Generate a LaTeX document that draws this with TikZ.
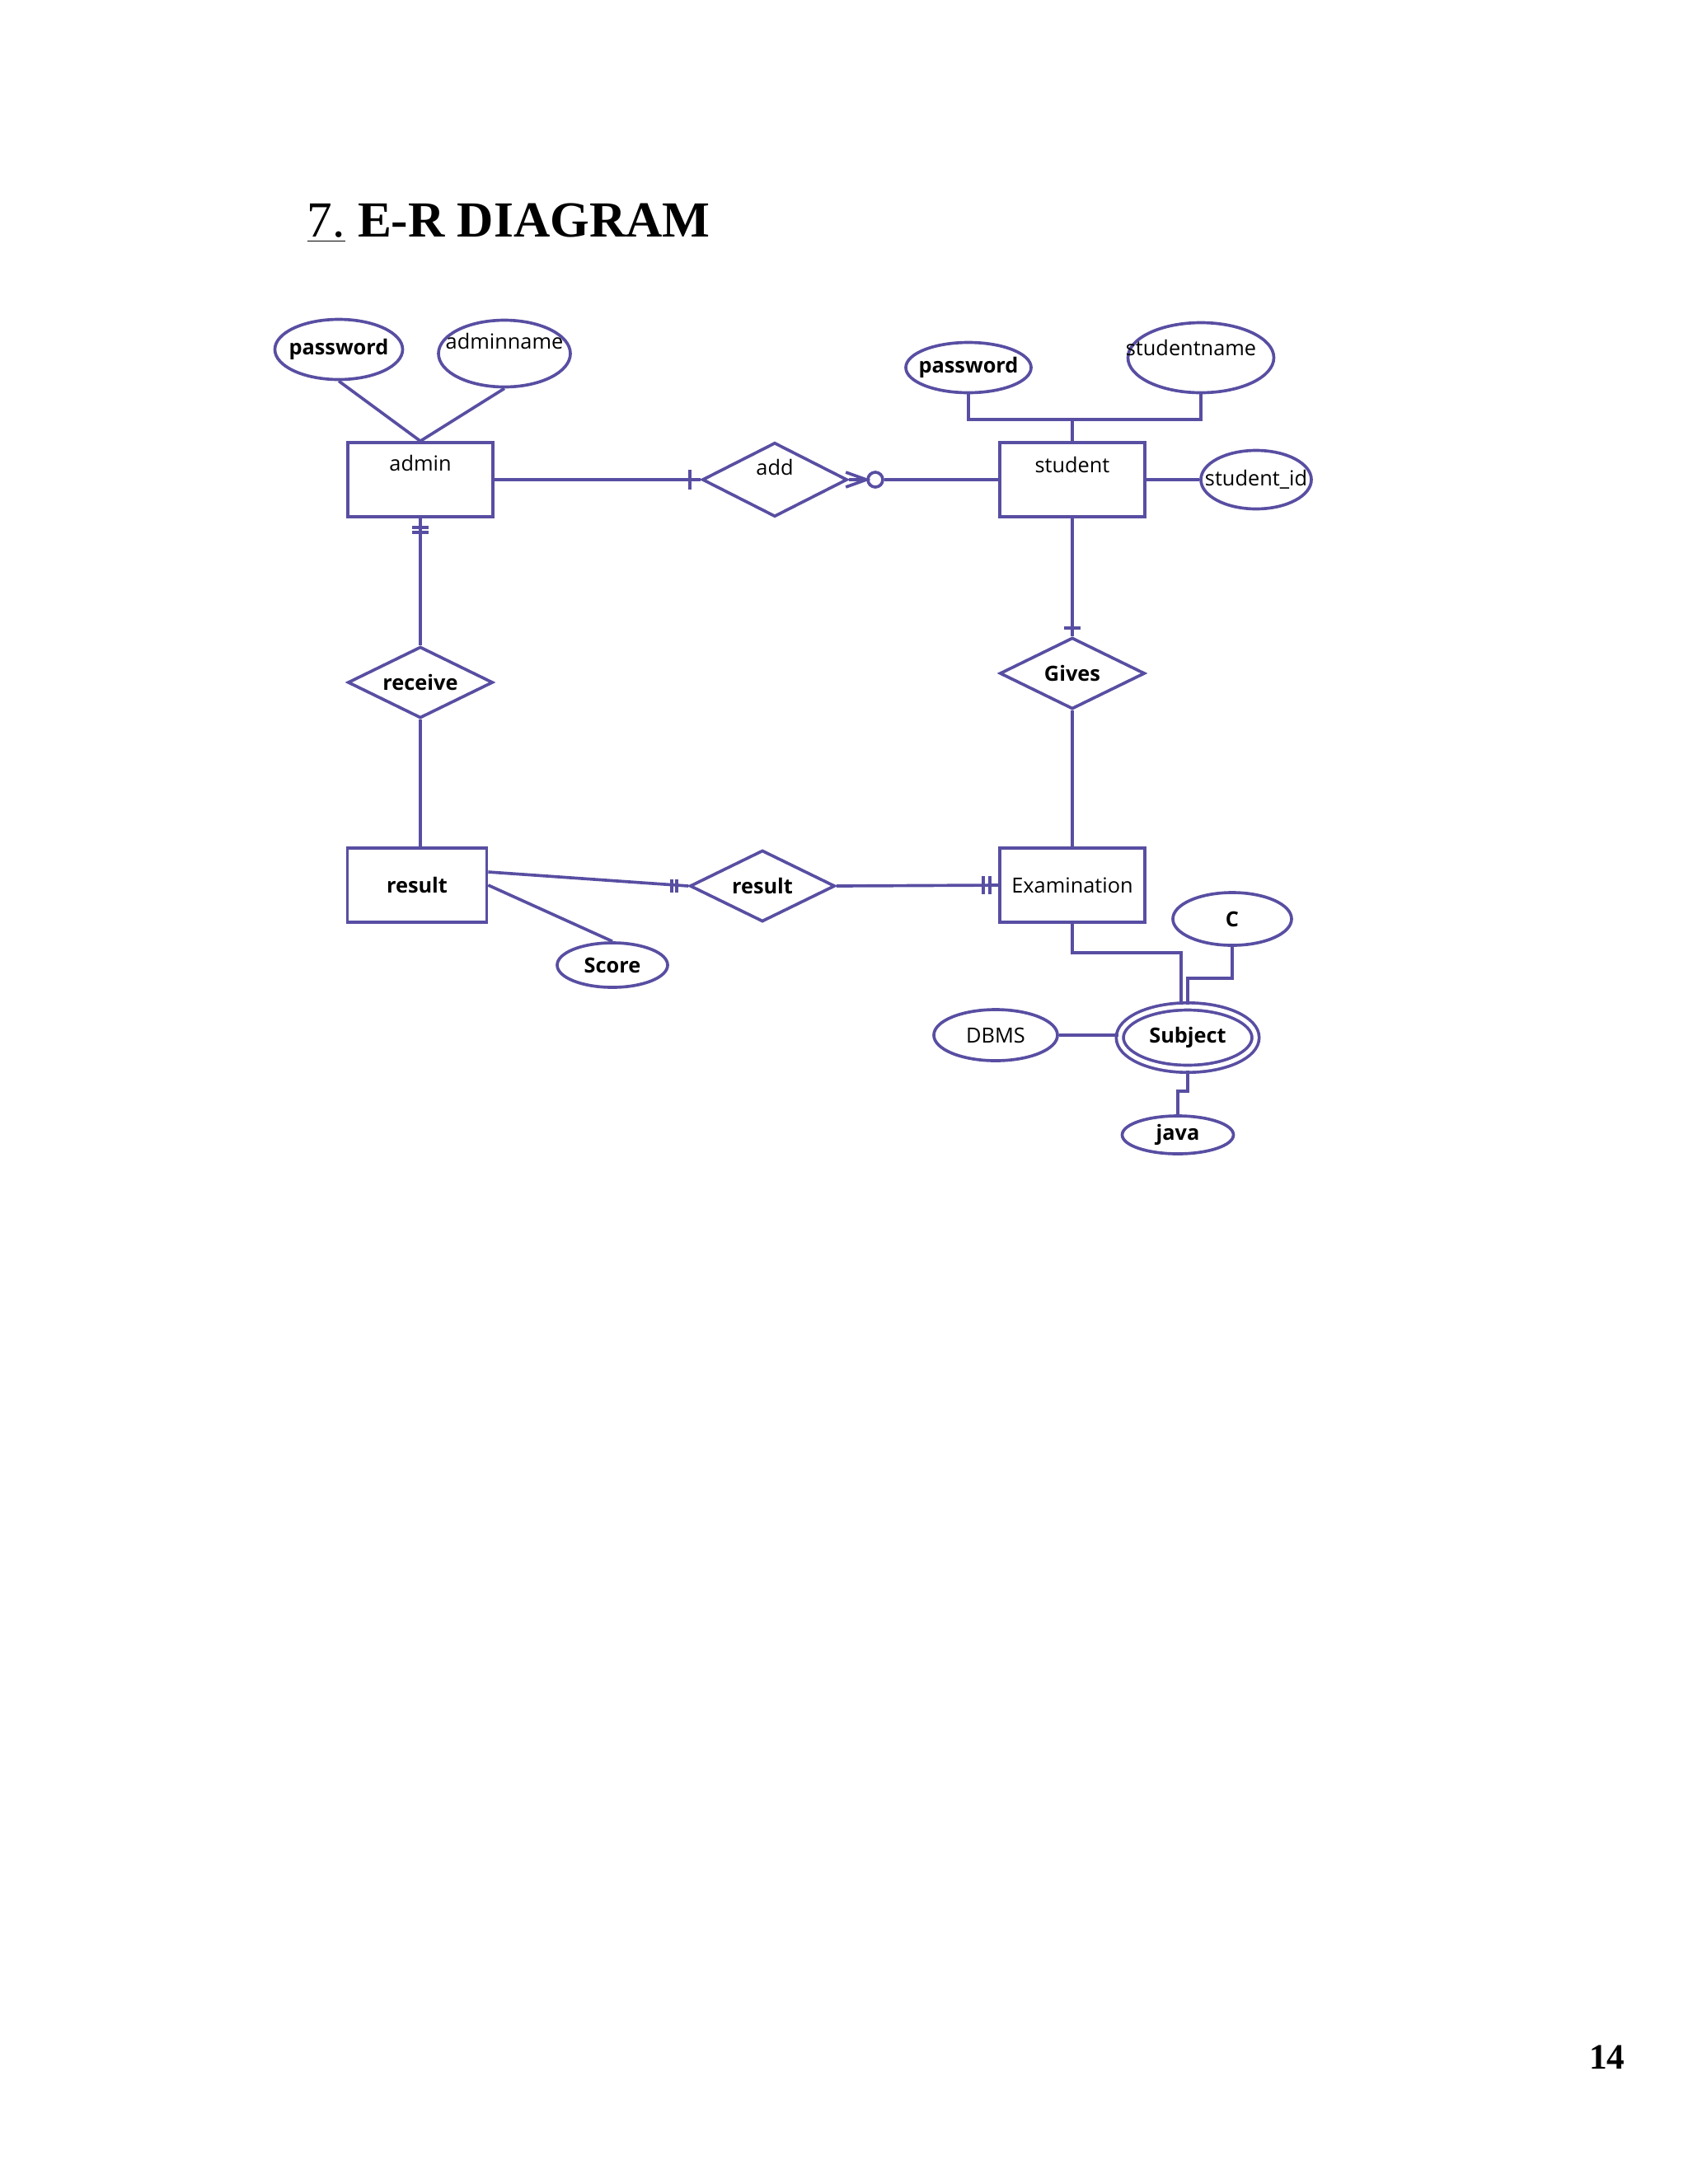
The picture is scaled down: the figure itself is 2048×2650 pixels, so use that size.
\documentclass[tikz,border=0pt]{standalone}
\usepackage{fontspec}
\setsansfont{Open Sans}
\newfontfamily\timesfont{Liberation Serif}
\usetikzlibrary{shapes.geometric}
\definecolor{erblue}{RGB}{88,78,162}

\tikzset{
  er/.style={draw=erblue, line width=1.1pt},
  link/.style={draw=erblue, line width=1.1pt},
  entity/.style={er, rectangle, minimum width=52.8pt, minimum height=27pt, inner sep=0pt},
  rel/.style={er, diamond, aspect=2, minimum width=52.8pt, minimum height=26pt, inner sep=0pt},
  attr/.style={er, ellipse, inner sep=0pt},
}

\begin{document}
\begin{tikzpicture}[x=0.3pt, y=-0.3pt, font=\sffamily\fontsize{7.6}{9}\selectfont]
    \useasboundingbox (0,0) rectangle (2048,2650);

    % heading and page number
    \node[anchor=base west, inner sep=0pt, font=\timesfont\fontsize{18.4}{22}\selectfont] (title) at (372,287) {\underline{7.} \textbf{E-R DIAGRAM}};
    \node[anchor=base east, inner sep=0pt, font=\timesfont\bfseries\fontsize{13}{15}\selectfont] (pagenum) at (1972,2510) {14};

    % entities
    \node[entity, label={[yshift=6pt]center:admin}] (admin) at (510,582) {};
    \node[entity, label={[yshift=5.5pt]center:student}] (student) at (1301,582) {};
    \node[entity, minimum width=50.7pt] (result) at (506,1074) {\textbf{result}};
    \node[entity] (exam) at (1301,1074) {Examination};

    % relationships
    \node[rel, minimum height=27pt, label={[yshift=4.5pt]center:add}] (add) at (940,582) {};
    \node[rel] (receive) at (510,828) {\textbf{receive}};
    \node[rel] (gives) at (1301,817) {\textbf{Gives}};
    \node[rel] (resrel) at (925,1075) {\textbf{result}};

    % attributes
    \node[attr, minimum width=46.5pt, minimum height=21.9pt, label={center:\textbf{password}}] (apass) at (411,424) {};
    \node[attr, minimum width=48pt, minimum height=24.3pt, label={[yshift=4.5pt]center:adminname}] (aname) at (612,429) {};
    \node[attr, minimum width=45.6pt, minimum height=18.3pt, label={center:\textbf{password}}] (spass) at (1175,446) {};
    \node[attr, minimum width=53.1pt, minimum height=25.5pt, label={[xshift=-3.6pt, yshift=3.6pt]center:studentname}] (sname) at (1457,434) {};
    \node[attr, minimum width=40.2pt, minimum height=21.3pt, label={center:student\_id}] (sid) at (1524,582) {};
    \node[attr, minimum width=40.2pt, minimum height=16.2pt, label={center:\textbf{Score}}] (score) at (743,1171) {};
    \node[attr, minimum width=43.2pt, minimum height=19.2pt, label={center:\textbf{C}}] (cattr) at (1495,1115) {};
    \node[attr, double, double distance=1.5pt, minimum width=49.4pt, minimum height=22.7pt, label={center:\textbf{Subject}}] (subject) at (1441,1259) {};
    \node[attr, minimum width=45pt, minimum height=18.6pt, label={center:DBMS}] (dbms) at (1208,1256) {};
    \node[attr, minimum width=40.5pt, minimum height=13.8pt, label={center:\textbf{java}}] (java) at (1429,1377) {};

    % optional marker on add -- student
    \node[draw=erblue, line width=1.1pt, circle, inner sep=0pt, minimum size=5.4pt] (opt) at (1062,582) {};

    % admin side
    \draw[link] (apass.south) -- (admin.north);
    \draw[link] (aname.south) -- (admin.north);
    \draw[link] (admin.east) -- (add.west);
    \draw[link] ([shift={(-13,-12)}]add.west) -- ++(0,24);
    \draw[link] (admin.south) -- (receive.north);
    \foreach \d in {11,17}
        \draw[link] ([shift={(-10,\d)}]admin.south) -- ++(20,0);
    \draw[link] (receive.south) -- (receive.south |- result.north);

    % student side
    \draw[link] (add.east) -- (opt.west);
    \draw[link] ([shift={(-25,-9)}]opt.west) -- (opt.west) -- ([shift={(-25,9)}]opt.west);
    \draw[link] (opt.east) -- (student.west);
    \coordinate (sbus) at (1301,509);
    \draw[link] (spass.south) |- (sbus) -| (sname.south);
    \draw[link] (student.north) -- (sbus);
    \draw[link] (student.east) -- (sid.west);
    \draw[link] (student.south) -- (gives.north);
    \draw[link] ([shift={(-10,-10)}]gives.north) -- ++(20,0);
    \draw[link] (gives.south) -- (exam.north);

    % result and examination
    \draw[link] ([yshift=4.8pt]result.east) -- (resrel.west);
    \foreach \d in {-20,-14}
        \draw[link] ([shift={(\d,-8)}]resrel.west) -- ++(0,16);
    \draw[link] (result.east) -- (score.north);
    \draw[link] (resrel.east) -- (exam.west);
    \foreach \d in {-18,-10}
        \draw[link] ([shift={(\d,-11)}]exam.west) -- ++(0,22);

    % subject
    \draw[link] (exam.south) -- ++(0,35) -| ([xshift=-2.4pt]subject.north);
    \draw[link] (cattr.south) -- ++(0,38) -| (subject.north);
    \draw[link] (subject.south) -- ++(0,25) -| (java.north);
    \draw[link] (dbms.east) -- (dbms.east -| subject.west);
\end{tikzpicture}
\end{document}
